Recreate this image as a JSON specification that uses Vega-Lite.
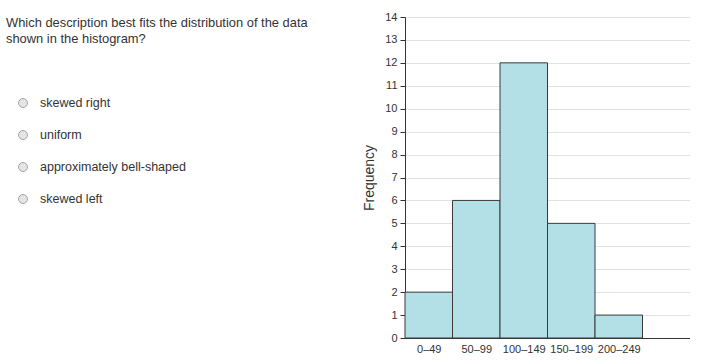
{
  "$schema": "https://vega.github.io/schema/vega-lite/v6.json",
  "padding": {"left": 0, "top": 11, "right": 0, "bottom": 0},
  "background": "white",
  "spacing": 22,
  "config": {"view": {"stroke": null}, "font": "Liberation Sans"},
  "hconcat": [
    {
      "width": 340,
      "height": 320,
      "data": {"values": [
        {"kind": "question", "indent": 0.6, "line": 1, "label": "Which description best fits the distribution of the data"},
        {"kind": "question", "indent": 0.6, "line": 2, "label": "shown in the histogram?"},
        {"kind": "option", "indent": 4.0, "radio": 2.3, "line": 6, "label": "skewed right"},
        {"kind": "option", "indent": 4.0, "radio": 2.3, "line": 8, "label": "uniform"},
        {"kind": "option", "indent": 4.0, "radio": 2.3, "line": 10, "label": "approximately bell-shaped"},
        {"kind": "option", "indent": 4.0, "radio": 2.3, "line": 12, "label": "skewed left"}
      ]},
      "layer": [
        {
          "transform": [{"filter": "datum.kind == 'question'"}],
          "mark": {"type": "text", "align": "left", "baseline": "middle", "fontSize": 12.9, "color": "#333333"},
          "encoding": {
            "x": {"field": "indent", "type": "quantitative", "scale": {"domain": [0, 34], "nice": false, "zero": false}, "axis": null},
            "y": {"field": "line", "type": "quantitative", "scale": {"domain": [0.625, 20.625], "nice": false, "zero": false, "reverse": true}, "axis": null},
            "text": {"field": "label"}
          }
        },
        {
          "transform": [{"filter": "datum.kind == 'option'"}],
          "mark": {"type": "text", "align": "left", "baseline": "middle", "fontSize": 12.5, "color": "#333333"},
          "encoding": {
            "x": {"field": "indent", "type": "quantitative"},
            "y": {"field": "line", "type": "quantitative"},
            "text": {"field": "label"}
          }
        },
        {
          "transform": [{"filter": "datum.kind == 'option'"}],
          "mark": {"type": "point", "shape": "circle", "filled": true, "size": 80, "fill": "#e4e4e4", "stroke": "#a6a6a6", "strokeWidth": 1, "opacity": 1},
          "encoding": {
            "x": {"field": "radio", "type": "quantitative"},
            "y": {"field": "line", "type": "quantitative"}
          }
        }
      ]
    },
    {
      "width": 285,
      "height": 321,
      "data": {"values": [
        {"start": 0, "end": 50, "freq": 2},
        {"start": 50, "end": 100, "freq": 6},
        {"start": 100, "end": 150, "freq": 12},
        {"start": 150, "end": 200, "freq": 5},
        {"start": 200, "end": 250, "freq": 1}
      ]},
      "mark": {"type": "bar", "fill": "#b3e0e6", "stroke": "#3a3a3a", "strokeWidth": 1},
      "encoding": {
        "x": {
          "field": "start", "type": "quantitative",
          "scale": {"domain": [0, 300], "nice": false, "zero": false},
          "axis": {
            "values": [25, 75, 125, 175, 225],
            "labelExpr": "(datum.value - 25) + '–' + (datum.value + 24)",
            "ticks": false, "grid": false, "title": null,
            "domainColor": "#333333", "labelColor": "#333333", "labelFontSize": 11, "labelPadding": 5
          }
        },
        "x2": {"field": "end"},
        "y": {
          "field": "freq", "type": "quantitative",
          "scale": {"domain": [0, 14], "nice": false},
          "axis": {
            "values": [0, 1, 2, 3, 4, 5, 6, 7, 8, 9, 10, 11, 12, 13, 14],
            "title": "Frequency", "titleFontWeight": "normal", "titleFontSize": 14, "titleColor": "#333333", "titlePadding": 8,
            "grid": true, "gridColor": "#e2e2e2",
            "domainColor": "#333333", "tickColor": "#333333", "tickSize": 5,
            "labelColor": "#333333", "labelFontSize": 11, "labelPadding": 3
          }
        },
        "y2": {"datum": 0}
      }
    }
  ]
}
